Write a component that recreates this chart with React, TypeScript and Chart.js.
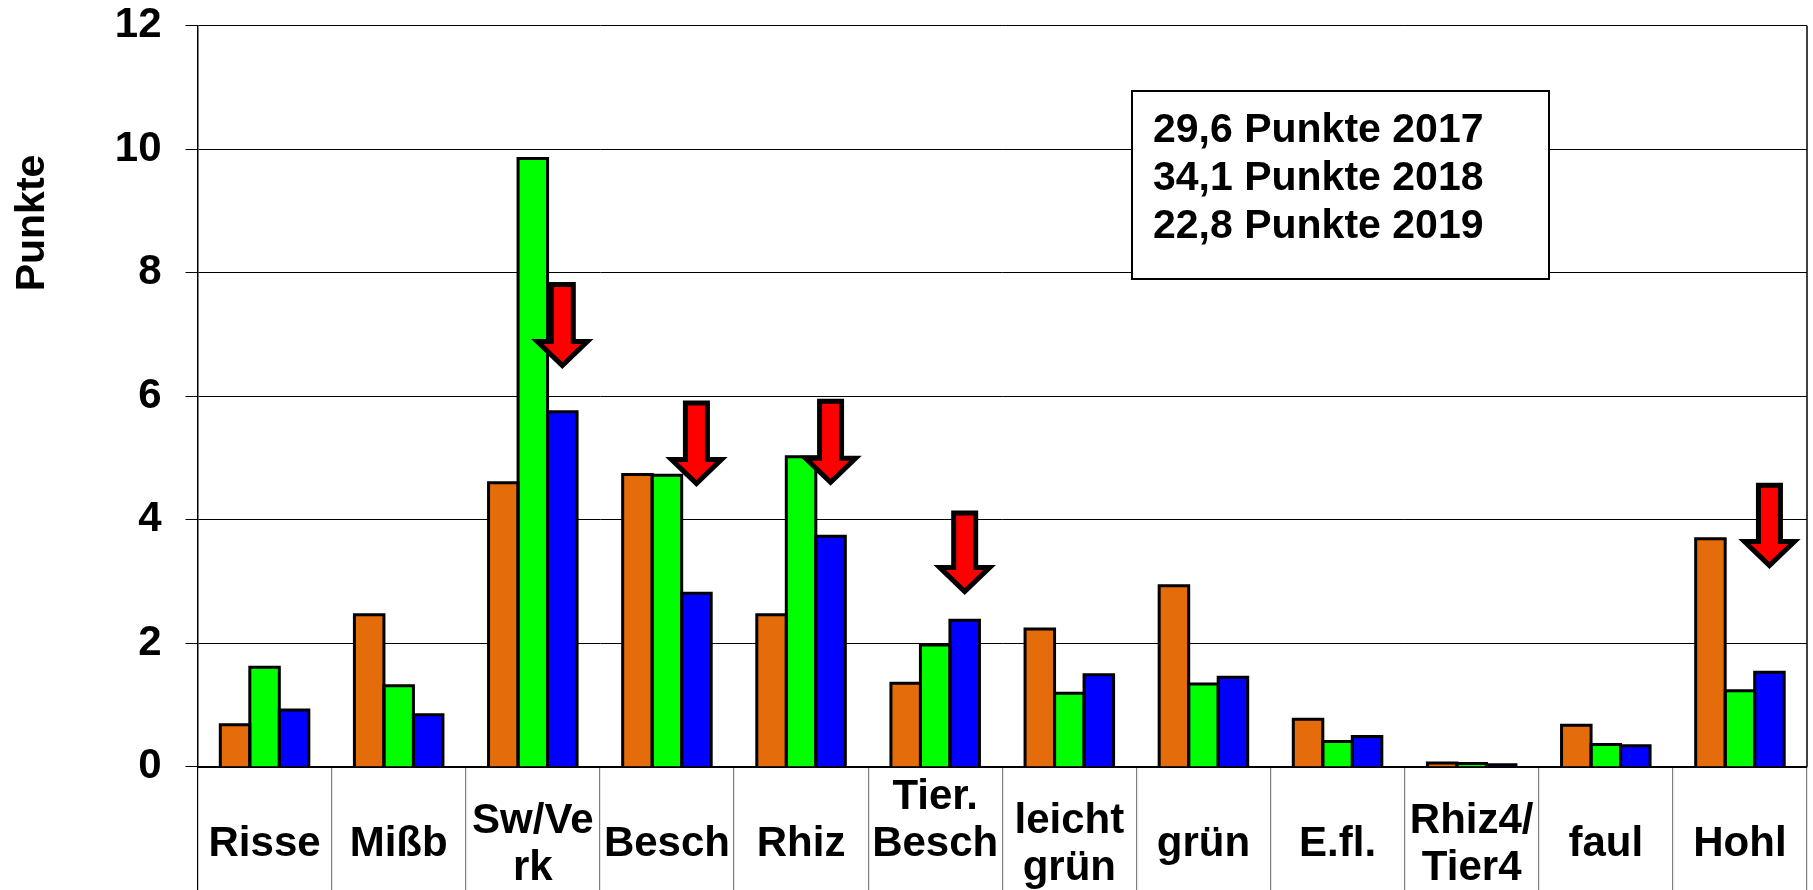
import { useEffect, useRef } from 'react';
import { Chart, registerables } from 'chart.js';

Chart.register(...registerables);

const categories: (string | string[])[] = [
  'Risse', 'Mißb', ['Sw/Ve', 'rk'], 'Besch', 'Rhiz', ['Tier.', 'Besch', ''],
  ['leicht', 'grün'], 'grün', 'E.fl.', ['Rhiz4/', 'Tier4'], 'faul', 'Hohl',
];
const series2017 = [0.68, 2.46, 4.6, 4.73, 2.46, 1.35, 2.23, 2.93, 0.77, 0.06, 0.67, 3.69];
const series2018 = [1.61, 1.31, 9.85, 4.72, 5.02, 1.97, 1.19, 1.34, 0.41, 0.05, 0.36, 1.23];
const series2019 = [0.92, 0.84, 5.75, 2.81, 3.73, 2.37, 1.49, 1.45, 0.49, 0.03, 0.34, 1.53];
const yTicks = [0, 2, 4, 6, 8, 10, 12];
const yTitle = 'Punkte';
const summaryLines = ['29,6 Punkte 2017', '34,1 Punkte 2018', '22,8 Punkte 2019'];
const arrowCategories = [2, 3, 4, 5, 11];
const arrowTops = [7.85, 5.93, 5.96, 4.15, 4.6];
const arrowTips = [6.44, 4.53, 4.55, 2.78, 3.2];

const FONT = "'Liberation Sans', Arial, Helvetica, sans-serif";

const decorPlugin = {
  id: 'decor',
  afterDatasetsDraw(chart: any) {
    const ctx = chart.ctx;
    const yS = chart.scales.y;
    const base = yS.getPixelForValue(0);
    ctx.save();
    ctx.strokeStyle = '#000';
    ctx.lineWidth = 3;
    ctx.lineJoin = 'miter';
    chart.data.datasets.forEach((_: any, di: number) => {
      chart.getDatasetMeta(di).data.forEach((bar: any) => {
        const { x, y, width } = bar.getProps(['x', 'y', 'width'], true);
        ctx.beginPath();
        ctx.moveTo(x - width / 2, base);
        ctx.lineTo(x - width / 2, y);
        ctx.lineTo(x + width / 2, y);
        ctx.lineTo(x + width / 2, base);
        ctx.stroke();
      });
    });
    const blueMeta = chart.getDatasetMeta(2);
    arrowCategories.forEach((ci, k) => {
      const bar = blueMeta.data[ci];
      const x = bar.getProps(['x'], true).x;
      const yt = yS.getPixelForValue(arrowTops[k]) + 2.5;
      const yp = yS.getPixelForValue(arrowTips[k]) - 3.5;
      const yh = yp - 24;
      ctx.beginPath();
      ctx.moveTo(x - 11, yt);
      ctx.lineTo(x + 11, yt);
      ctx.lineTo(x + 11, yh);
      ctx.lineTo(x + 25, yh);
      ctx.lineTo(x, yp);
      ctx.lineTo(x - 25, yh);
      ctx.lineTo(x - 11, yh);
      ctx.closePath();
      ctx.fillStyle = '#FF0000';
      ctx.fill();
      ctx.lineWidth = 5;
      ctx.strokeStyle = '#000';
      ctx.stroke();
    });
    ctx.restore();
  },
  afterDraw(chart: any) {
    const ctx = chart.ctx;
    const ca = chart.chartArea;
    ctx.save();
    ctx.strokeStyle = '#000';
    ctx.lineWidth = 1.5;
    ctx.beginPath();
    ctx.moveTo(ca.right, ca.top);
    ctx.lineTo(ca.right, ca.bottom);
    ctx.stroke();
    ctx.save();
    ctx.translate(33, 223);
    ctx.rotate(-Math.PI / 2);
    ctx.fillStyle = '#000';
    ctx.font = `bold 41px ${FONT}`;
    ctx.textAlign = 'center';
    ctx.textBaseline = 'middle';
    ctx.fillText(yTitle, 0, 0);
    ctx.restore();
    ctx.fillStyle = '#fff';
    ctx.fillRect(1132, 91, 417, 188);
    ctx.lineWidth = 2;
    ctx.strokeStyle = '#000';
    ctx.strokeRect(1132, 91, 417, 188);
    ctx.fillStyle = '#000';
    ctx.font = `bold 41px ${FONT}`;
    ctx.textAlign = 'left';
    ctx.textBaseline = 'alphabetic';
    summaryLines.forEach((t, i) => {
      ctx.fillText(t, 1153, 142 + i * 48);
    });
    ctx.restore();
  },
};

export default function App() {
  const ref = useRef<HTMLCanvasElement | null>(null);
  useEffect(() => {
    if (!ref.current) return;
    const chart = new Chart(ref.current, {
      type: 'bar',
      data: {
        labels: categories as any,
        datasets: [
          { label: '2017', data: series2017, backgroundColor: '#E46C0A', borderWidth: 0 },
          { label: '2018', data: series2018, backgroundColor: '#00FF00', borderWidth: 0 },
          { label: '2019', data: series2019, backgroundColor: '#0000FF', borderWidth: 0 },
        ],
      },
      options: {
        responsive: false,
        maintainAspectRatio: false,
        animation: false,
        devicePixelRatio: 1,
        layout: { padding: { top: 0, right: 6, bottom: 0, left: 0 } },
        datasets: { bar: { categoryPercentage: 0.66, barPercentage: 1.0 } },
        plugins: {
          legend: { display: false },
          tooltip: { enabled: false },
          title: { display: false },
        },
        scales: {
          x: {
            offset: true,
            afterFit: (s: any) => { s.height = 123.3; },
            grid: {
              offset: true,
              drawOnChartArea: false,
              drawTicks: true,
              tickLength: 130,
              color: (c: any) => (c.index === 0 ? '#000' : '#808080'),
              lineWidth: 1.2,
            },
            border: { display: true, color: '#000', width: 2 },
            ticks: {
              autoSkip: false,
              maxRotation: 0,
              minRotation: 0,
              crossAlign: 'center',
              padding: -99,
              color: '#000',
              font: { family: FONT, size: 42, weight: 'bold', lineHeight: 1.12 },
            },
          },
          y: {
            min: 0,
            max: 12,
            afterFit: (s: any) => { s.width = 197.5; s.paddingTop = 25.7; s.paddingBottom = 0; },
            afterBuildTicks: (s: any) => { s.ticks = yTicks.map((v) => ({ value: v })); },
            grid: { color: '#000', lineWidth: 1, tickLength: 12, drawTicks: true },
            border: { display: true, color: '#000', width: 1.5 },
            ticks: {
              padding: 24,
              color: '#000',
              font: { family: FONT, size: 42, weight: 'bold' },
            },
          },
        },
      },
      plugins: [decorPlugin],
    });
    return () => chart.destroy();
  }, []);
  return (
    <div style={{ position: 'fixed', left: 0, top: 0, width: 1813, height: 890, overflow: 'hidden', background: '#fff' }}>
      <canvas ref={ref} width={1813} height={890} style={{ width: 1813, height: 890, display: 'block' }} />
    </div>
  );
}
